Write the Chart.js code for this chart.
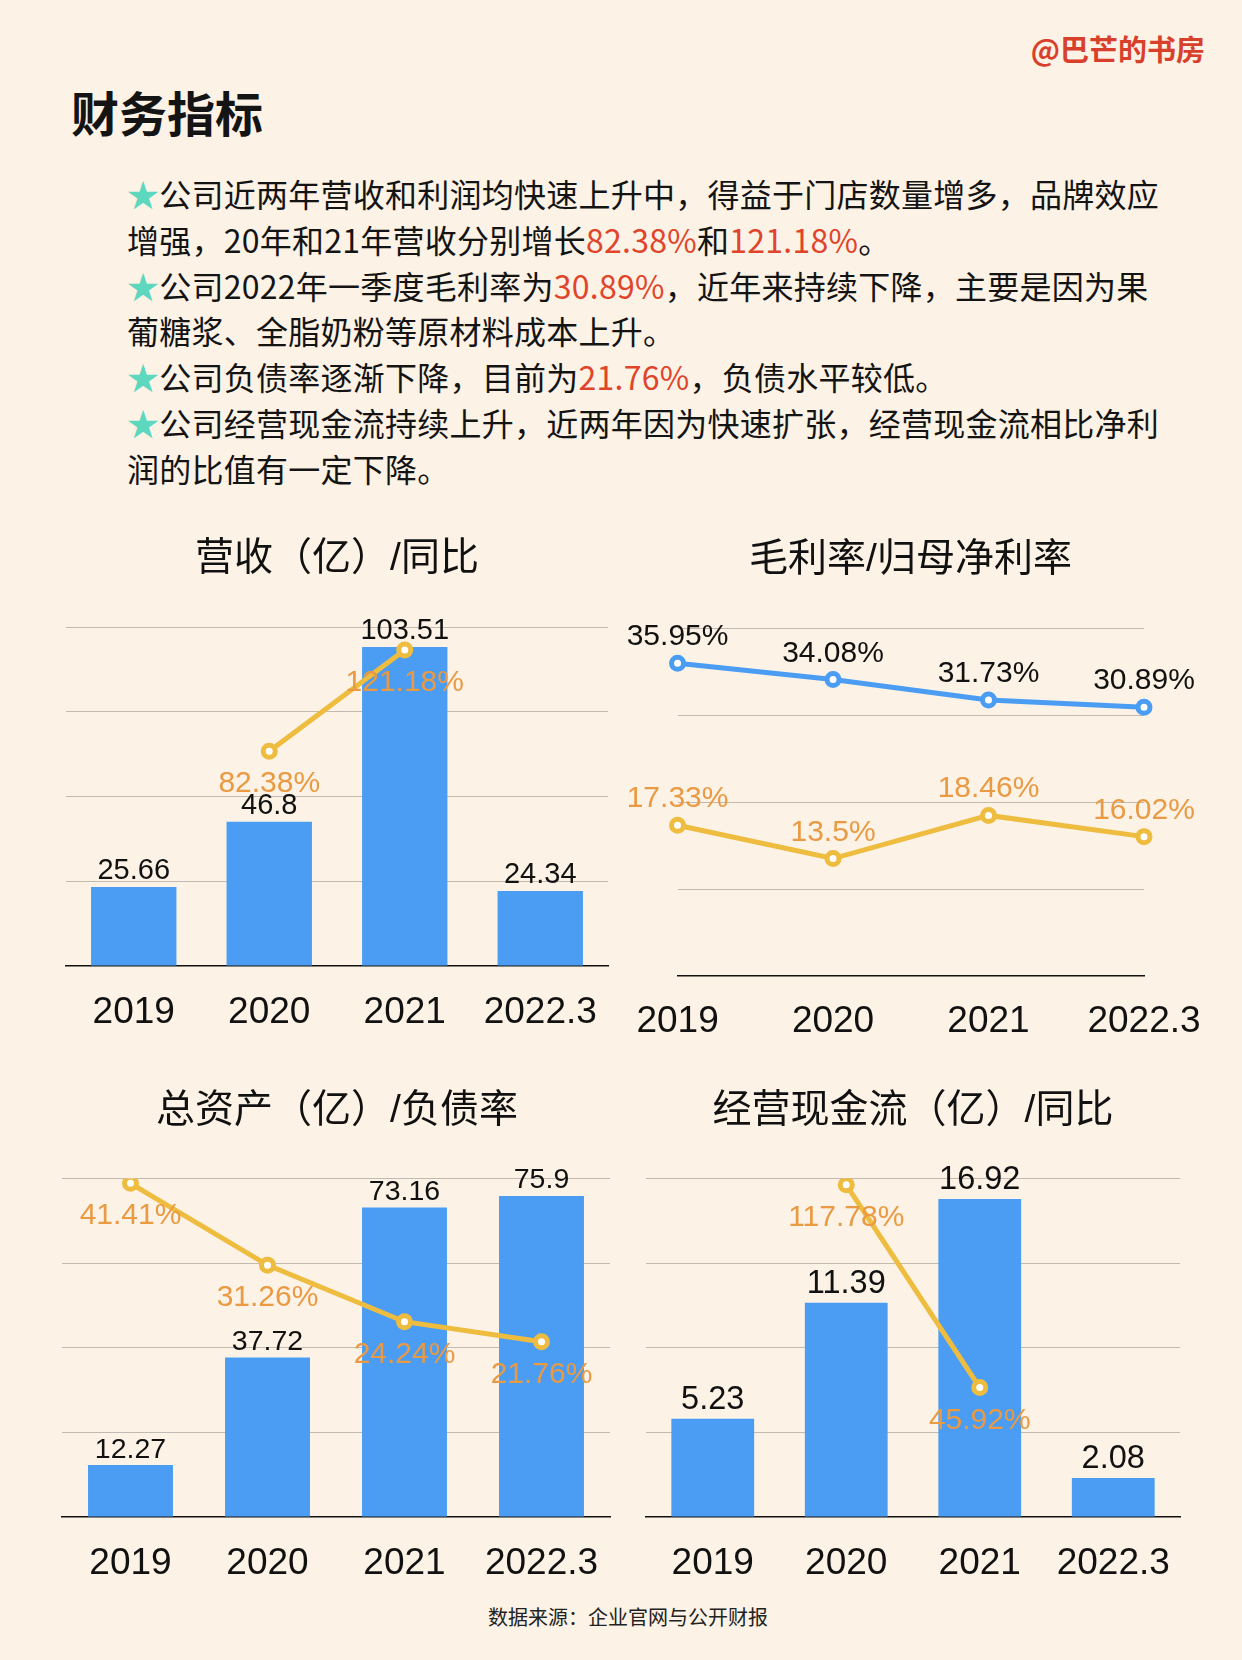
<!DOCTYPE html>
<html>
<head>
<meta charset="utf-8">
<script src="https://cdn.jsdelivr.net/npm/chart.js@4"></script>
<style>
  body { margin: 0; background: #fcf2e6; }
  #page { position: relative; width: 1242px; height: 1660px; background: #fcf2e6; overflow: hidden;
    font-family: "Liberation Sans", "Noto Sans CJK SC", sans-serif; color: #141414; }
  #handle { position: absolute; right: 37px; top: 33px; font-size: 29px; line-height: 30px; font-weight: bold; color: #d9402b;
    font-family: "Noto Sans CJK SC", sans-serif; }
  h1 { position: absolute; left: 71px; top: 87px; margin: 0; font-size: 48px; line-height: 48px; font-weight: bold;
    font-family: "Noto Sans CJK SC", sans-serif; }
  #notes { position: absolute; left: 127px; top: 171px; font-size: 32px; line-height: 45.8px; white-space: nowrap;
    letter-spacing: 0.25px; font-family: "Noto Sans CJK SC", sans-serif; }
  .star { color: #5dd8be; }
  .red { color: #e0452b; }
  canvas { position: absolute; }
  #source { position: absolute; left: 488px; top: 1605px; font-size: 20px; line-height: 24px; color: #222;
    font-family: "Noto Sans CJK SC", sans-serif; }
</style>
</head>
<body>
<div id="page">
  <div id="handle">@巴芒的书房</div>
  <h1>财务指标</h1>
  <div id="notes">
    <div><span class="star">★</span>公司近两年营收和利润均快速上升中，得益于门店数量增多，品牌效应</div>
    <div>增强，20年和21年营收分别增长<span class="red">82.38%</span>和<span class="red">121.18%</span>。</div>
    <div><span class="star">★</span>公司2022年一季度毛利率为<span class="red">30.89%</span>，近年来持续下降，主要是因为果</div>
    <div>葡糖浆、全脂奶粉等原材料成本上升。</div>
    <div><span class="star">★</span>公司负债率逐渐下降，目前为<span class="red">21.76%</span>，负债水平较低。</div>
    <div><span class="star">★</span>公司经营现金流持续上升，近两年因为快速扩张，经营现金流相比净利</div>
    <div>润的比值有一定下降。</div>
  </div>
  <canvas id="revChart" width="621" height="546" style="left:0;top:500px"></canvas>
  <canvas id="marginChart" width="621" height="556" style="left:621px;top:500px"></canvas>
  <canvas id="assetChart" width="621" height="537" style="left:0;top:1060px"></canvas>
  <canvas id="cashChart" width="621" height="537" style="left:621px;top:1060px"></canvas>
  <div id="source">数据来源：企业官网与公开财报</div>
</div>
<script>
// 数据
const years = ['2019', '2020', '2021', '2022.3'];
const revenue = [25.66, 46.8, 103.51, 24.34];
const revenueYoy = [null, 82.38, 121.18, null];
const grossMargin = [35.95, 34.08, 31.73, 30.89];
const netMargin = [17.33, 13.5, 18.46, 16.02];
const totalAssets = [12.27, 37.72, 73.16, 75.9];
const debtRatio = [41.41, 31.26, 24.24, 21.76];
const cashFlow = [5.23, 11.39, 16.92, 2.08];
const cashFlowYoy = [null, 117.78, 45.92, null];

const FONT = '"Liberation Sans", "Noto Sans CJK SC", sans-serif';
const BLUE = '#4a9df3';
const YELLOW = '#eebc3f';
const ORANGE = '#e99a43';
const INK = '#111111';
const GRID = '#c2bab1';

// 数值标签（柱顶 / 点旁）
const valueLabels = {
  id: 'valueLabels',
  afterDatasetsDraw(chart) {
    const ctx = chart.ctx;
    chart.data.datasets.forEach((ds, i) => {
      const s = ds.valueLabel;
      if (!s) return;
      chart.getDatasetMeta(i).data.forEach((el, j) => {
        const v = ds.data[j];
        if (v === null || v === undefined) return;
        ctx.save();
        ctx.font = s.size + 'px ' + FONT;
        ctx.fillStyle = s.color;
        ctx.textAlign = 'center';
        ctx.textBaseline = 'alphabetic';
        ctx.fillText(v + (s.suffix || ''), el.x, el.y + s.dy);
        ctx.restore();
      });
    });
  }
};

function lineStyle(color) {
  return {
    borderColor: color,
    borderWidth: 5,
    pointRadius: 6,
    pointBorderWidth: 5,
    pointBackgroundColor: '#ffffff',
    pointBorderColor: color,
    tension: 0
  };
}

function baseOptions(title, yMax, yStep, y1Max, pad) {
  return {
    responsive: false,
    animation: false,
    layout: { padding: { left: pad.left, right: pad.right, top: 0, bottom: 0 } },
    plugins: {
      legend: { display: false },
      tooltip: { enabled: false },
      title: {
        display: true,
        text: title,
        color: INK,
        font: { family: FONT, size: 39, weight: 'normal', lineHeight: 1.2 },
        padding: { top: pad.titleTop, bottom: pad.titleBottom }
      }
    },
    scales: {
      x: {
        grid: { display: false },
        border: { display: true, color: INK, width: 1.5 },
        ticks: { color: INK, font: { family: FONT, size: 37 }, padding: pad.tick, maxRotation: 0, autoSkip: false },
        afterFit: s => { s.height = 80; }
      },
      y: {
        min: 0,
        max: yMax,
        ticks: { display: false, stepSize: yStep },
        border: { display: false },
        grid: { drawTicks: false, lineWidth: 1, color: c => (c.tick && c.tick.value === 0) ? 'rgba(0,0,0,0)' : GRID }
      },
      y1: { display: false, min: 0, max: y1Max || 100 }
    }
  };
}

function comboChart(id, title, bars, line, cfg) {
  new Chart(document.getElementById(id), {
    type: 'bar',
    data: {
      labels: years,
      datasets: [
        Object.assign({
          type: 'line',
          data: line,
          yAxisID: 'y1',
          order: 0,
          valueLabel: { size: 30, color: ORANGE, suffix: '%', dy: cfg.lineDy }
        }, lineStyle(YELLOW)),
        {
          data: bars,
          yAxisID: 'y',
          order: 1,
          backgroundColor: BLUE,
          barPercentage: 1,
          categoryPercentage: cfg.barPct,
          valueLabel: { size: cfg.barFont, color: INK, dy: cfg.barDy }
        }
      ]
    },
    options: baseOptions(title, cfg.yMax, cfg.yStep, cfg.y1Max, cfg.pad),
    plugins: [valueLabels]
  });
}

comboChart('revChart', '营收（亿）/同比', revenue, revenueYoy, {
  yMax: 110, yStep: 27.5, y1Max: 130, barPct: 0.63, barFont: 29, barDy: -8, lineDy: 41,
  pad: { left: 66, right: 13, titleTop: 35.6, titleBottom: 44.6, tick: 16.8 }
});

new Chart(document.getElementById('marginChart'), {
  type: 'line',
  data: {
    labels: years,
    datasets: [
      Object.assign({ data: grossMargin, valueLabel: { size: 30, color: INK, suffix: '%', dy: -18 } }, lineStyle(BLUE)),
      Object.assign({ data: netMargin, valueLabel: { size: 30, color: ORANGE, suffix: '%', dy: -18 } }, lineStyle(YELLOW))
    ]
  },
  options: baseOptions('毛利率/归母净利率', 40, 10, null,
    { left: 56, right: 98, titleTop: 36.6, titleBottom: 44.6, tick: 15.4 }),
  plugins: [valueLabels]
});

comboChart('assetChart', '总资产（亿）/负债率', totalAssets, debtRatio, {
  yMax: 80, yStep: 20, y1Max: 42, barPct: 0.62, barFont: 28.5, barDy: -7.5, lineDy: 41,
  pad: { left: 62, right: 9, titleTop: 27.6, titleBottom: 44.2, tick: 16.8 }
});

comboChart('cashChart', '经营现金流（亿）/同比', cashFlow, cashFlowYoy, {
  yMax: 18, yStep: 4.5, y1Max: 120, barPct: 0.62, barFont: 32.5, barDy: -9.5, lineDy: 41,
  pad: { left: 25, right: 62, titleTop: 27.6, titleBottom: 44.2, tick: 16.8 }
});
</script>
</body>
</html>
